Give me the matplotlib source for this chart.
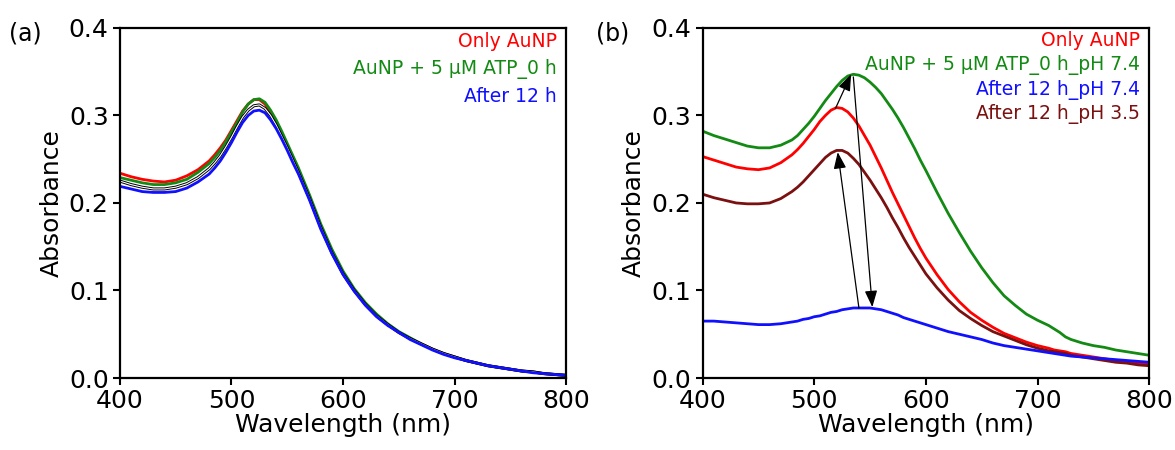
import matplotlib.pyplot as plt

plt.rcParams['font.family'] = ['DejaVu Sans']

# Panel (a) data
wlA = (list(range(400, 481, 10)) + list(range(485, 561, 5)) + list(range(570, 801, 10)))
onlyAuNP_a = [0.234, 0.230, 0.227, 0.225, 0.224, 0.226, 0.231, 0.238, 0.248,
              0.255, 0.263, 0.272, 0.283, 0.294, 0.305, 0.313, 0.318, 0.318, 0.313, 0.304, 0.292, 0.279, 0.265, 0.251, 0.237,
              0.206, 0.173, 0.144, 0.119, 0.100, 0.084, 0.071, 0.061, 0.052, 0.045, 0.039, 0.033, 0.028, 0.024,
              0.020, 0.017, 0.014, 0.012, 0.010, 0.008, 0.007, 0.005, 0.004, 0.003]
atp0h_a = [0.229, 0.226, 0.223, 0.221, 0.221, 0.223, 0.227, 0.235, 0.245,
           0.252, 0.260, 0.270, 0.281, 0.292, 0.304, 0.313, 0.318, 0.319, 0.315, 0.306, 0.295, 0.282, 0.268, 0.254, 0.240,
           0.209, 0.176, 0.147, 0.122, 0.102, 0.086, 0.073, 0.062, 0.053, 0.046, 0.039, 0.033, 0.028, 0.024,
           0.020, 0.017, 0.014, 0.012, 0.010, 0.008, 0.007, 0.005, 0.004, 0.003]
black_a = [0.225, 0.221, 0.218, 0.216, 0.216, 0.218, 0.222, 0.229, 0.239,
           0.246, 0.254, 0.264, 0.275, 0.287, 0.298, 0.306, 0.311, 0.312, 0.308, 0.300, 0.289, 0.276, 0.263, 0.249, 0.235,
           0.205, 0.172, 0.143, 0.119, 0.100, 0.084, 0.071, 0.061, 0.052, 0.045, 0.039, 0.033, 0.028, 0.024,
           0.020, 0.017, 0.014, 0.012, 0.010, 0.008, 0.007, 0.005, 0.004, 0.003]
after12h_a = [0.219, 0.216, 0.213, 0.212, 0.212, 0.213, 0.217, 0.224, 0.233,
              0.240, 0.248, 0.258, 0.269, 0.281, 0.292, 0.300, 0.305, 0.306, 0.303, 0.295, 0.285, 0.273, 0.260, 0.246, 0.233,
              0.203, 0.170, 0.142, 0.118, 0.099, 0.083, 0.070, 0.060, 0.052, 0.044, 0.038, 0.032, 0.027, 0.023,
              0.020, 0.017, 0.014, 0.012, 0.010, 0.008, 0.006, 0.005, 0.004, 0.003]

# Panel (b) data
wlB = (list(range(400, 471, 10)) + list(range(480, 601, 5)) + list(range(610, 711, 10))
       + [715, 720, 725] + list(range(730, 801, 10)))
onlyAuNP_b = [0.253, 0.249, 0.245, 0.241, 0.239, 0.238, 0.240, 0.246,
              0.255, 0.261, 0.268, 0.276, 0.284, 0.293, 0.300, 0.306, 0.309, 0.308, 0.304, 0.297, 0.288,
              0.277, 0.266, 0.253, 0.240, 0.226, 0.212, 0.199, 0.186, 0.173, 0.160, 0.148, 0.137,
              0.118, 0.101, 0.087, 0.075, 0.066, 0.058, 0.051, 0.046, 0.041, 0.037, 0.034,
              0.032, 0.031, 0.030,
              0.028, 0.026, 0.024, 0.022, 0.020, 0.019, 0.017, 0.016]
atp0h_b = [0.282, 0.277, 0.273, 0.269, 0.265, 0.263, 0.263, 0.266,
           0.272, 0.277, 0.284, 0.291, 0.299, 0.308, 0.317, 0.325, 0.333, 0.340, 0.345, 0.347, 0.346,
           0.343, 0.338, 0.332, 0.325, 0.316, 0.307, 0.297, 0.286, 0.274, 0.262, 0.249, 0.237,
           0.212, 0.188, 0.166, 0.145, 0.126, 0.109, 0.094, 0.083, 0.073, 0.066, 0.060,
           0.056, 0.052, 0.047,
           0.044, 0.040, 0.037, 0.035, 0.032, 0.030, 0.028, 0.026]
after12h74_b = [0.065, 0.065, 0.064, 0.063, 0.062, 0.061, 0.061, 0.062,
                0.064, 0.065, 0.067, 0.068, 0.070, 0.071, 0.073, 0.075, 0.076, 0.078, 0.079, 0.080, 0.080,
                0.080, 0.080, 0.079, 0.078, 0.076, 0.074, 0.072, 0.069, 0.067, 0.065, 0.063, 0.061,
                0.057, 0.053, 0.050, 0.047, 0.044, 0.040, 0.037, 0.035, 0.033, 0.031, 0.029,
                0.028, 0.027, 0.026,
                0.025, 0.024, 0.023, 0.022, 0.021, 0.020, 0.019, 0.018]
after12h35_b = [0.210, 0.206, 0.203, 0.200, 0.199, 0.199, 0.200, 0.205,
                0.213, 0.218, 0.224, 0.231, 0.238, 0.245, 0.252, 0.257, 0.260, 0.260, 0.257, 0.251, 0.244,
                0.235, 0.226, 0.216, 0.206, 0.195, 0.183, 0.172, 0.160, 0.149, 0.139, 0.129, 0.119,
                0.103, 0.089, 0.077, 0.068, 0.060, 0.053, 0.048, 0.043, 0.038, 0.034, 0.031,
                0.030, 0.029, 0.028,
                0.026, 0.024, 0.022, 0.020, 0.018, 0.017, 0.015, 0.014]

# arrows in panel (b): (start, end) in data units
arrows_b = [((519, 0.308), (533, 0.347)),
            ((535, 0.344), (552, 0.081)),
            ((540, 0.080), (521, 0.258))]

RED = '#ff0000'
GREEN = '#138a13'
BLUE = '#1010ff'
MAROON = '#7a1010'

fig = plt.figure(figsize=(11.75, 4.5), dpi=100)
axA = fig.add_axes([0.102, 0.16, 0.380, 0.778])
axB = fig.add_axes([0.598, 0.16, 0.380, 0.778])

lw = 2.0
axA.plot(wlA, onlyAuNP_a, color=RED, lw=lw)
axA.plot(wlA, atp0h_a, color=GREEN, lw=lw)
axA.plot(wlA, black_a, color='black', lw=2.2)
axA.plot(wlA, black_a, color='white', lw=0.8)
axA.plot(wlA, after12h_a, color=BLUE, lw=lw)

axB.plot(wlB, atp0h_b, color=GREEN, lw=lw)
axB.plot(wlB, onlyAuNP_b, color=RED, lw=lw)
axB.plot(wlB, after12h35_b, color=MAROON, lw=lw)
axB.plot(wlB, after12h74_b, color=BLUE, lw=lw)

for start, end in arrows_b:
    axB.annotate('', xy=end, xytext=start,
                 arrowprops=dict(arrowstyle='-|>,head_length=1.0,head_width=0.38',
                                 color='black', lw=0.9, shrinkA=0, shrinkB=0))

for ax in (axA, axB):
    ax.set_xlim(400, 800)
    ax.set_ylim(0, 0.4)
    ax.set_xticks([400, 500, 600, 700, 800])
    ax.set_yticks([0.0, 0.1, 0.2, 0.3, 0.4])
    ax.set_yticklabels(['0.0', '0.1', '0.2', '0.3', '0.4'])
    ax.tick_params(direction='out', length=5, width=1.5, labelsize=18, pad=3)
    for s in ax.spines.values():
        s.set_linewidth(1.6)
    ax.set_xlabel('Wavelength (nm)', fontsize=18, labelpad=0)
    ax.set_ylabel('Absorbance', fontsize=18, labelpad=4)

# legends as coloured text
labelsA = ['Only AuNP', 'AuNP + 5 \u00b5M ATP_0 h', 'After 12 h']
colorsA = [RED, GREEN, BLUE]
for i, (t, c) in enumerate(zip(labelsA, colorsA)):
    axA.text(0.978, 0.96 - i * 0.078, t, color=c, fontsize=13.5,
             ha='right', va='center', transform=axA.transAxes)

labelsB = ['Only AuNP', 'AuNP + 5 \u00b5M ATP_0 h_pH 7.4', 'After 12 h_pH 7.4', 'After 12 h_pH 3.5']
colorsB = [RED, GREEN, BLUE, MAROON]
for i, (t, c) in enumerate(zip(labelsB, colorsB)):
    axB.text(0.98, 0.963 - i * 0.07, t, color=c, fontsize=13.5,
             ha='right', va='center', transform=axB.transAxes)

fig.text(0.008, 0.925, '(a)', fontsize=17, va='center')
fig.text(0.507, 0.925, '(b)', fontsize=17, va='center')

fig.savefig('out.png', dpi=100)
